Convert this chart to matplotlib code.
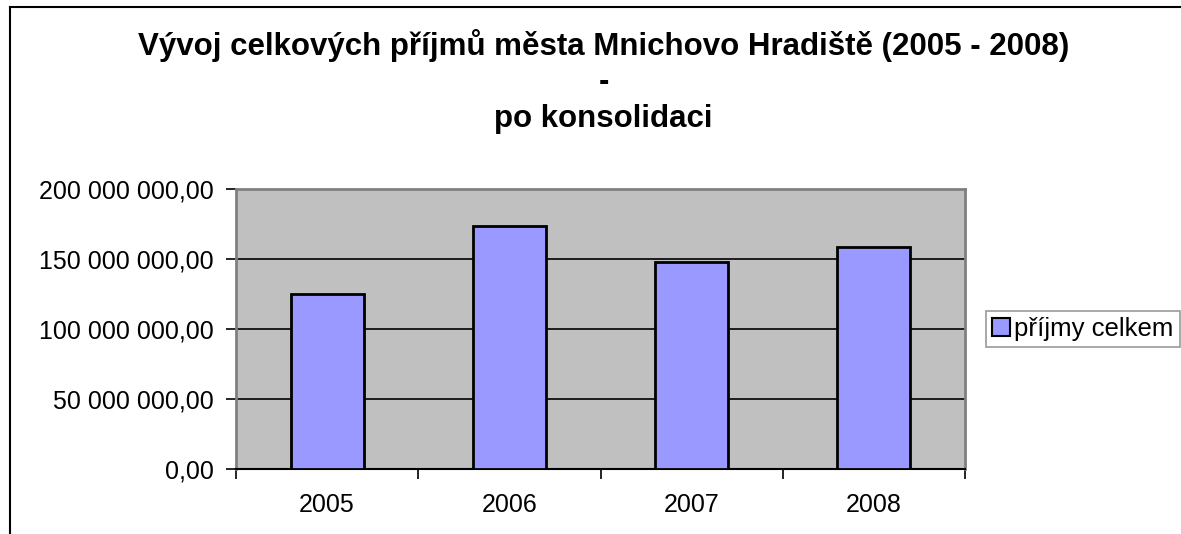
import matplotlib
matplotlib.use("Agg")
import matplotlib.pyplot as plt
from matplotlib.ticker import FuncFormatter, FixedLocator
from matplotlib.lines import Line2D

years = ["2005", "2006", "2007", "2008"]
prijmy = [125.0e6, 173.6e6, 147.6e6, 158.4e6]
series_name = "příjmy celkem"
title_lines = ["Vývoj celkových příjmů města Mnichovo Hradiště (2005 - 2008)", "-", "po konsolidaci"]

plt.rcParams["font.family"] = ["Liberation Sans", "DejaVu Sans"]


def czk(v, pos):
    s = "{:,.2f}".format(v)
    return s.replace(",", " ").replace(".", ",")


fig = plt.figure(figsize=(11.81, 5.34), dpi=100)
ax = fig.add_axes([236 / 1181, 65 / 534, 729 / 1181, 280 / 534])
ax.set_facecolor("#C0C0C0")

x = list(range(len(years)))
ax.bar(x, prijmy, width=0.4, color="#9999FF", edgecolor="black", linewidth=2, label=series_name, zorder=3)

ax.set_xlim(-0.5, len(years) - 0.5)
ax.set_ylim(0, 200e6)
ax.yaxis.set_major_locator(FixedLocator([0, 50e6, 100e6, 150e6, 200e6]))
ax.yaxis.set_major_formatter(FuncFormatter(czk))
ax.grid(axis="y", color="black", linewidth=1.2, zorder=1)

# category labels in the middle, ticks on the category borders
ax.set_xticks(x)
ax.set_xticklabels(years)
ax.tick_params(axis="x", length=0, pad=17, labelsize=18)
ax.set_xticks([i - 0.5 for i in range(len(years) + 1)], minor=True)
ax.tick_params(axis="x", which="minor", length=7, width=1.2, direction="out")
ax.tick_params(axis="y", length=7, width=1.2, direction="out", pad=9, labelsize=18)

for side in ["top", "right", "left"]:
    ax.spines[side].set_color("#808080")
    ax.spines[side].set_linewidth(2)
ax.spines["bottom"].set_color("black")
ax.spines["bottom"].set_linewidth(1.5)

fig.text(0.511, 1 - 46 / 534, title_lines[0], ha="center", va="center", fontsize=22.5, fontweight="bold")
fig.text(0.511, 1 - 82 / 534, title_lines[1], ha="center", va="center", fontsize=22.5, fontweight="bold")
fig.text(0.511, 1 - 119 / 534, title_lines[2], ha="center", va="center", fontsize=22.5, fontweight="bold")

leg = fig.legend(loc="center left", bbox_to_anchor=(986 / 1181, 1 - 329 / 534), fontsize=18.5,
                 frameon=True, fancybox=False, borderpad=0.25, handlelength=0.7, handleheight=0.7,
                 handletextpad=0.15, borderaxespad=0)
leg.get_frame().set_edgecolor("#808080")
leg.get_frame().set_linewidth(1.2)
for h in leg.legend_handles:
    h.set_linewidth(1.5)

# chart area border (cut off on the right and bottom)
fig.add_artist(Line2D([10 / 1181, 10 / 1181], [0, 1 - 7 / 534], color="black", linewidth=1.5, transform=fig.transFigure))
fig.add_artist(Line2D([10 / 1181, 1180 / 1181], [1 - 7 / 534, 1 - 7 / 534], color="black", linewidth=1.5, transform=fig.transFigure))

fig.savefig("out.png", dpi=100, facecolor="white")
